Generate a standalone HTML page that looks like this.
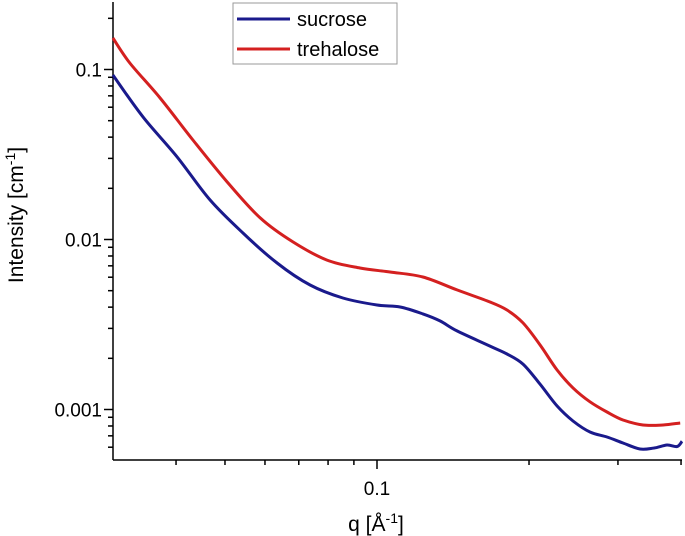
<!DOCTYPE html>
<html><head><meta charset="utf-8"><style>
body{margin:0;background:#fff;}
svg{display:block;font-family:"Liberation Sans",sans-serif;}
</style></head><body>
<svg id="chart" width="685" height="536" viewBox="0 0 685 536">
<g id="axes"></g>
<g id="series"></g>
<g id="legend">
<rect x="233" y="3" width="164" height="61" fill="#fff" stroke="#999" stroke-width="1"/>
<line x1="237" y1="19" x2="290" y2="19" stroke="#1a1a8c" stroke-width="3"/>
<text x="297" y="26" font-size="20">sucrose</text>
<line x1="237" y1="49" x2="290" y2="49" stroke="#d42020" stroke-width="3"/>
<text x="297" y="56" font-size="20">trehalose</text>
</g>
<text x="376" y="531" font-size="21" text-anchor="middle">q [Å<tspan font-size="14" dy="-8">-1</tspan><tspan dy="8">]</tspan></text>
<text transform="translate(23,215) rotate(-90)" font-size="21" text-anchor="middle">Intensity [cm<tspan font-size="14" dy="-8">-1</tspan><tspan dy="8">]</tspan></text>
</svg>
<script>
const xMajorTicks=[0.1];
const xMinorTicks=[0.04,0.05,0.06,0.07,0.08,0.09,0.2,0.3,0.4];
const yMajorTicks=[0.1,0.01,0.001];
const yTickLabels=["0.1","0.01","0.001"];
const sucroseQ=[0.0300,0.0344,0.0402,0.0467,0.0543,0.0634,0.0737,0.0856,0.1,0.1111,0.1233,0.1333,0.1440,0.1674,0.1809,0.1946,0.2103,0.2272,0.2444,0.2641,0.2854,0.3070,0.3317,0.3537,0.3753,0.3929,0.4018];
const sucroseI=[0.0928,0.0526,0.0306,0.0171,0.0109,0.00727,0.00540,0.00453,0.00412,0.00401,0.00365,0.00332,0.00290,0.00236,0.00212,0.00185,0.00141,0.00105,0.000856,0.000737,0.000689,0.000635,0.000586,0.000594,0.000618,0.000606,0.000650];
const trehaloseQ=[0.0300,0.0324,0.0372,0.0432,0.0505,0.0587,0.0682,0.0796,0.0925,0.1061,0.1233,0.1440,0.1674,0.1809,0.1946,0.2103,0.2272,0.2444,0.2641,0.2854,0.3070,0.3363,0.3685,0.3984];
const trehaloseI=[0.1532,0.1092,0.0680,0.0385,0.0218,0.0134,0.00967,0.00757,0.00680,0.00644,0.00602,0.00505,0.00429,0.00385,0.00323,0.00240,0.00171,0.00134,0.00111,0.000967,0.000868,0.000811,0.000811,0.000833];

const X0=377,DX=505,Y0=69.5,DY=170,LEFT=113,RIGHT=681,TOP=2,BOTTOM=460;
function xs(q){return X0+DX*(Math.log10(q)+1);}
function ys(v){return Y0-DY*(Math.log10(v)+1);}
const NS="http://www.w3.org/2000/svg";
function mk(tag,attrs,parent){const e=document.createElementNS(NS,tag);for(const k in attrs)e.setAttribute(k,attrs[k]);parent.appendChild(e);return e;}
const axes=document.getElementById('axes');
let l=mk('line',{x1:LEFT,y1:TOP,x2:LEFT,y2:BOTTOM,stroke:'#000','stroke-width':1.5},axes);


l=mk('line',{x1:LEFT,y1:BOTTOM,x2:RIGHT+1,y2:BOTTOM,stroke:'#000','stroke-width':1.5},axes);


xMajorTicks.forEach(q=>{const x=xs(q);
 let t=mk('line',{x1:x,y1:BOTTOM,x2:x,y2:BOTTOM+9,stroke:'#000','stroke-width':1.5},axes);
 
 
 let tx=mk('text',{x:x,y:BOTTOM+35,'font-size':19,'text-anchor':'middle'},axes);tx.textContent=String(q);
 
 
});
xMinorTicks.forEach(q=>{const x=xs(q);
 let t=mk('line',{x1:x,y1:BOTTOM,x2:x,y2:BOTTOM+5,stroke:'#000','stroke-width':1.5},axes);
 
 
});
yMajorTicks.forEach((v,i)=>{const y=ys(v);
 let t=mk('line',{x1:LEFT-9,y1:y,x2:LEFT,y2:y,stroke:'#000','stroke-width':1.5},axes);
 
 
 let tx=mk('text',{x:LEFT-11,y:y+7,'font-size':19,'text-anchor':'end'},axes);tx.textContent=yTickLabels[i];
 
 
});
for(let d=-4;d<0;d++){for(let m=2;m<=9;m++){const v=m*Math.pow(10,d);const y=ys(v);if(y<TOP||y>BOTTOM)continue;
 let t=mk('line',{x1:LEFT-5,y1:y,x2:LEFT,y2:y,stroke:'#000','stroke-width':1.5},axes);
 
 
}}
const ser=document.getElementById('series');
function draw(qs,is,color,name){
 const pts=qs.map((q,i)=>[xs(q),ys(is[i])]);
 let d='M'+pts[0][0].toFixed(1)+','+pts[0][1].toFixed(1);
 for(let i=0;i<pts.length-1;i++){
  const p0=pts[Math.max(0,i-1)],p1=pts[i],p2=pts[i+1],p3=pts[Math.min(pts.length-1,i+2)];
  const c1=[p1[0]+(p2[0]-p0[0])/6,p1[1]+(p2[1]-p0[1])/6];
  const c2=[p2[0]-(p3[0]-p1[0])/6,p2[1]-(p3[1]-p1[1])/6];
  d+=' C'+c1[0].toFixed(1)+','+c1[1].toFixed(1)+' '+c2[0].toFixed(1)+','+c2[1].toFixed(1)+' '+p2[0].toFixed(1)+','+p2[1].toFixed(1);
 }
 const p=mk('path',{d:d,fill:'none',stroke:color,'stroke-width':3,'stroke-linejoin':'round'},ser);
 
 
}
draw(trehaloseQ,trehaloseI,'#d42020','trehalose-line');
draw(sucroseQ,sucroseI,'#1a1a8c','sucrose-line');
</script>
</body></html>
